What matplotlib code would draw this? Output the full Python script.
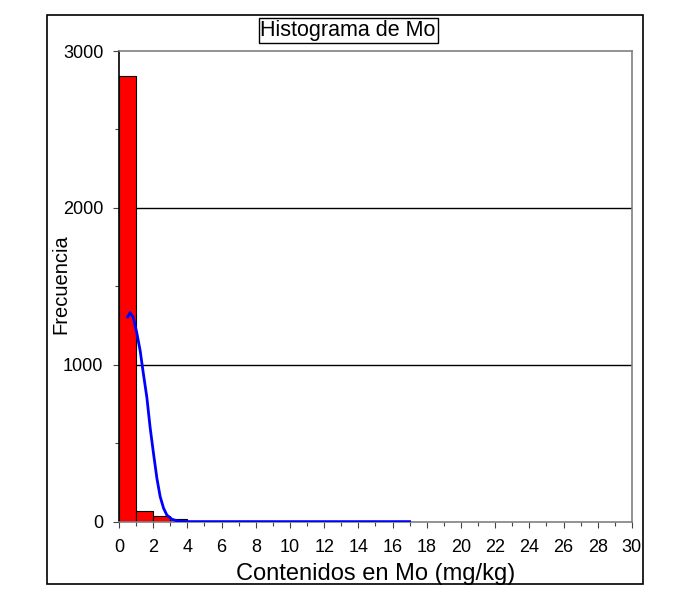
import matplotlib
matplotlib.use("Agg")
import matplotlib.pyplot as plt
from matplotlib.patches import Rectangle
from matplotlib.ticker import MultipleLocator

plt.rcParams['font.family'] = ['Liberation Sans', 'DejaVu Sans']

# Histogram data (bin left edges, width 1)
bin_left = list(range(0, 17))
counts = [2840, 68, 38, 15, 5, 2, 1, 1, 1, 0, 1, 0, 0, 0, 1, 0, 1]

# Fitted curve
curve_x = [0.51, 0.65, 0.84, 1.04, 1.24, 1.43, 1.63, 1.82, 2.02, 2.22, 2.41,
           2.61, 2.8, 3.1, 3.4, 3.7, 4.0, 6.0, 10.0, 14.0, 17.0]
curve_y = [1304, 1332, 1300, 1205, 1089, 941, 793, 602, 434, 275, 159,
           85, 42, 15, 5, 1, 0, 0, 0, 0, 0]

title = "Histograma de Mo"
xlabel = "Contenidos en Mo (mg/kg)"
ylabel = "Frecuencia"

fig = plt.figure(figsize=(6.99, 5.91), dpi=100)
ax = fig.add_axes([0.1702, 0.1174, 0.7338, 0.7963])

ax.bar(bin_left, counts, width=1.0, align='edge', color='#ff0000',
       edgecolor='black', linewidth=0.8, zorder=2)
ax.plot(curve_x, curve_y, color='#0000ff', linewidth=2, zorder=3)

ax.set_xlim(0, 30)
ax.set_ylim(0, 3000)
ax.xaxis.set_major_locator(MultipleLocator(2))
ax.xaxis.set_minor_locator(MultipleLocator(1))
ax.yaxis.set_major_locator(MultipleLocator(1000))
ax.yaxis.set_minor_locator(MultipleLocator(500))
for y in (1000, 2000):
    ax.axhline(y, color='black', linewidth=1, zorder=1)

ax.tick_params(axis='both', which='major', direction='out', length=4.3,
               width=0.8, labelsize=13, color='#444444')
ax.tick_params(axis='both', which='minor', direction='out', length=2.8,
               width=0.8, color='#444444')
ax.tick_params(axis='x', which='major', pad=8)
ax.tick_params(axis='y', which='major', pad=7)

ax.spines['left'].set_color('black')
for s in ('top', 'right', 'bottom'):
    ax.spines[s].set_color('#808080')
for s in ax.spines.values():
    s.set_linewidth(1.2)

ax.set_xlabel(xlabel, fontsize=17, labelpad=5)
ax.set_ylabel(ylabel, fontsize=14.5, va='center')
ax.yaxis.set_label_coords(-0.113, 0.505)

fig.text(0.498, 0.9485, title, ha='center', va='center', fontsize=15.5,
         bbox=dict(boxstyle='square,pad=0.08', facecolor='white',
                   edgecolor='black', linewidth=1))

fig.patches.append(Rectangle((0.0672, 0.0118), 0.8527, 0.9628,
                             transform=fig.transFigure, fill=False,
                             edgecolor='black', linewidth=1.2))

fig.savefig("out.png", dpi=100)
